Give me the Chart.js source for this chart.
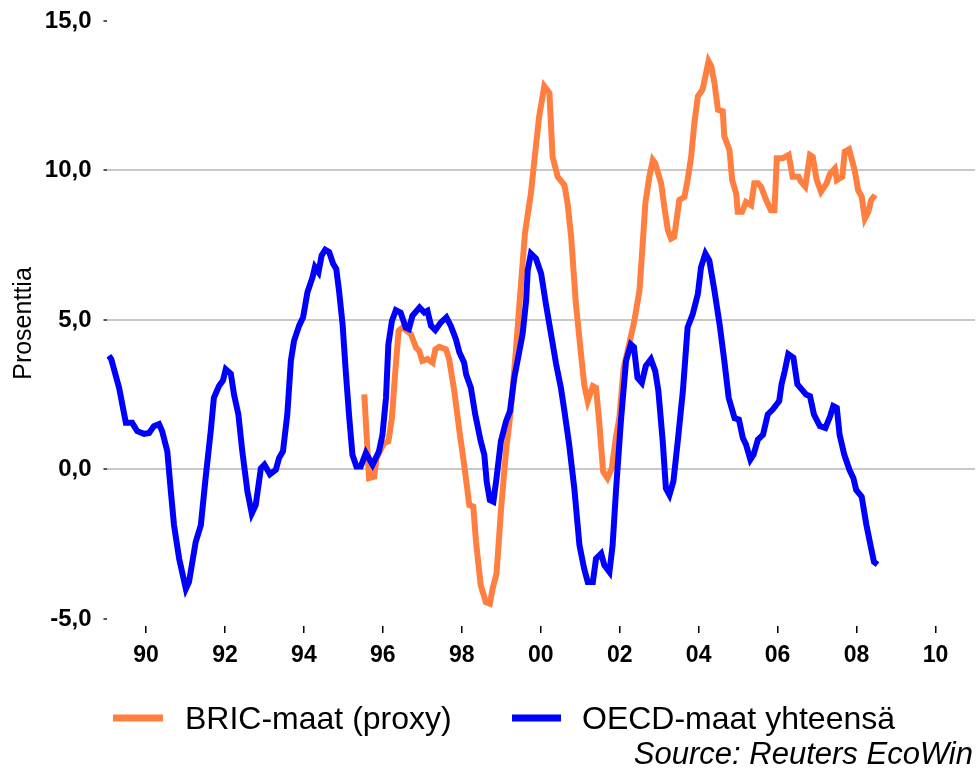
<!DOCTYPE html>
<html>
<head>
<meta charset="utf-8">
<script src="https://cdn.jsdelivr.net/npm/chart.js@4/dist/chart.umd.min.js"></script>
<style>
  html, body { margin: 0; padding: 0; background: #fff; }
  #wrap { width: 976px; height: 769px; }
</style>
</head>
<body>
<div id="wrap"><canvas id="chart" width="976" height="769"></canvas></div>
<script>
// BRIC-maat (proxy)
const bricYears = [
    1995.53, 1995.65, 1995.78, 1995.84, 1996.03, 1996.14, 1996.23, 1996.31, 1996.40, 1996.50,
    1996.71, 1996.84, 1996.92, 1997.00, 1997.13, 1997.26, 1997.33, 1997.43, 1997.60, 1997.68,
    1997.81, 1997.94, 1998.06, 1998.19, 1998.29, 1998.36, 1998.48, 1998.61, 1998.71, 1998.78,
    1998.88, 1998.99, 1999.12, 1999.24, 1999.37, 1999.50, 1999.60, 1999.75, 1999.84, 1999.96,
    2000.09, 2000.22, 2000.30, 2000.43, 2000.60, 2000.68, 2000.77, 2000.89, 2001.02, 2001.10,
    2001.19, 2001.32, 2001.40, 2001.48, 2001.58, 2001.69, 2001.80, 2001.90, 2001.99, 2002.10,
    2002.24, 2002.37, 2002.50, 2002.58, 2002.65, 2002.75, 2002.84, 2002.90, 2003.05, 2003.13,
    2003.22, 2003.30, 2003.38, 2003.51, 2003.64, 2003.72, 2003.81, 2003.89, 2003.98, 2004.10,
    2004.17, 2004.25, 2004.32, 2004.40, 2004.49, 2004.61, 2004.65, 2004.78, 2004.85, 2004.95,
    2004.99, 2005.10, 2005.20, 2005.33, 2005.41, 2005.50, 2005.58, 2005.71, 2005.83, 2005.92,
    2005.98, 2006.13, 2006.28, 2006.38, 2006.53, 2006.59, 2006.70, 2006.82, 2006.89, 2006.99,
    2007.10, 2007.24, 2007.33, 2007.45, 2007.50, 2007.64, 2007.70, 2007.81, 2007.95, 2008.04,
    2008.13, 2008.21, 2008.30, 2008.37, 2008.47
];
const bricValues = [
    2.51, -0.29, -0.24, 0.38, 0.88, 0.94, 1.72, 3.18, 4.64, 4.75,
    4.53, 4.08, 3.97, 3.63, 3.69, 3.57, 4.02, 4.10, 4.02, 3.69,
    2.62, 1.28, 0.16, -1.19, -1.24, -2.42, -3.88, -4.44, -4.49, -3.99,
    -3.48, -1.41, 0.61, 1.95, 3.97, 6.21, 7.90, 9.23, 10.35, 11.81,
    12.82, 12.59, 10.46, 9.79, 9.51, 8.90, 7.78, 5.54, 3.86, 2.85,
    2.29, 2.79, 2.73, 1.61, -0.07, -0.29, 0.04, 1.05, 1.72, 3.40,
    4.19, 4.97, 5.98, 7.50, 8.90, 9.79, 10.35, 10.24, 9.57, 8.78,
    8.00, 7.72, 7.78, 9.01, 9.12, 9.68, 10.46, 11.58, 12.48, 12.71,
    13.15, 13.66, 13.49, 12.93, 12.03, 11.98, 11.14, 10.69, 9.68, 9.23,
    8.62, 8.62, 8.95, 8.84, 9.57, 9.57, 9.46, 9.01, 8.67, 8.67,
    10.41, 10.41, 10.52, 9.79, 9.79, 9.63, 9.46, 10.52, 10.46, 9.68,
    9.29, 9.57, 9.90, 10.07, 9.68, 9.79, 10.63, 10.71, 10.02, 9.34,
    9.12, 8.39, 8.62, 9.01, 9.18
];

// OECD-maat yhteensä
const oecdYears = [
    1989.06, 1989.12, 1989.32, 1989.49, 1989.65, 1989.78, 1989.95, 1990.08, 1990.20, 1990.33,
    1990.41, 1990.54, 1990.63, 1990.71, 1990.84, 1991.01, 1991.09, 1991.26, 1991.39, 1991.51,
    1991.64, 1991.72, 1991.85, 1991.95, 1992.02, 1992.15, 1992.23, 1992.34, 1992.44, 1992.57,
    1992.68, 1992.78, 1992.91, 1993.00, 1993.14, 1993.29, 1993.37, 1993.47, 1993.58, 1993.67,
    1993.75, 1993.88, 1993.98, 1994.09, 1994.22, 1994.28, 1994.37, 1994.45, 1994.54, 1994.64,
    1994.74, 1994.82, 1994.89, 1994.98, 1995.06, 1995.15, 1995.23, 1995.33, 1995.44, 1995.57,
    1995.74, 1995.90, 1995.99, 1996.08, 1996.14, 1996.23, 1996.33, 1996.45, 1996.58, 1996.66,
    1996.75, 1996.93, 1997.05, 1997.13, 1997.22, 1997.33, 1997.47, 1997.61, 1997.72, 1997.85,
    1997.94, 1998.06, 1998.11, 1998.23, 1998.34, 1998.48, 1998.57, 1998.63, 1998.71, 1998.80,
    1998.88, 1998.99, 1999.12, 1999.22, 1999.33, 1999.46, 1999.54, 1999.63, 1999.67, 1999.75,
    1999.88, 2000.01, 2000.13, 2000.26, 2000.39, 2000.51, 2000.60, 2000.72, 2000.85, 2000.98,
    2001.10, 2001.19, 2001.32, 2001.40, 2001.53, 2001.61, 2001.74, 2001.82, 2001.91, 2002.03,
    2002.16, 2002.28, 2002.36, 2002.45, 2002.56, 2002.66, 2002.79, 2002.90, 2002.98, 2003.09,
    2003.17, 2003.26, 2003.36, 2003.47, 2003.60, 2003.72, 2003.85, 2003.98, 2004.06, 2004.17,
    2004.27, 2004.40, 2004.53, 2004.65, 2004.76, 2004.91, 2005.02, 2005.12, 2005.20, 2005.31,
    2005.39, 2005.50, 2005.63, 2005.75, 2005.88, 2006.04, 2006.10, 2006.18, 2006.27, 2006.40,
    2006.50, 2006.61, 2006.72, 2006.82, 2006.92, 2007.07, 2007.21, 2007.33, 2007.41, 2007.50,
    2007.57, 2007.69, 2007.82, 2007.92, 2007.99, 2008.13, 2008.25, 2008.37, 2008.44, 2008.53
];
const oecdValues = [
    3.80, 3.69, 2.73, 1.56, 1.56, 1.28, 1.19, 1.22, 1.45, 1.52,
    1.28, 0.61, -0.74, -1.86, -2.98, -3.99, -3.76, -2.42, -1.86, -0.29,
    1.28, 2.40, 2.79, 2.98, 3.35, 3.20, 2.51, 1.84, 0.61, -0.74,
    -1.47, -1.19, 0.04, 0.16, -0.16, -0.01, 0.38, 0.61, 1.84, 3.63,
    4.30, 4.81, 5.09, 5.93, 6.43, 6.77, 6.60, 7.16, 7.35, 7.27,
    6.88, 6.71, 5.98, 4.86, 3.29, 1.72, 0.49, 0.10, 0.10, 0.55,
    0.16, 0.60, 1.16, 2.40, 4.19, 4.97, 5.33, 5.25, 4.75, 4.70,
    5.14, 5.42, 5.25, 5.31, 4.81, 4.66, 4.92, 5.09, 4.81, 4.36,
    3.91, 3.57, 3.18, 2.73, 1.84, 0.94, 0.49, -0.40, -1.02, -1.08,
    -0.29, 0.94, 1.61, 1.95, 3.07, 3.97, 4.53, 5.65, 6.66, 7.22,
    7.05, 6.55, 5.54, 4.53, 3.52, 2.73, 1.95, 0.83, -0.63, -2.53,
    -3.32, -3.76, -3.76, -2.98, -2.81, -3.20, -3.43, -2.53, -0.63, 1.61,
    3.63, 4.19, 4.10, 3.07, 2.90, 3.46, 3.69, 3.29, 2.62, 0.94,
    -0.63, -0.85, -0.40, 0.94, 2.62, 4.75, 5.20, 5.87, 6.77, 7.22,
    6.99, 5.98, 4.86, 3.63, 2.40, 1.72, 1.67, 1.05, 0.83, 0.33,
    0.49, 1.00, 1.16, 1.84, 2.01, 2.29, 2.85, 3.29, 3.86, 3.74,
    2.85, 2.68, 2.51, 2.45, 1.84, 1.45, 1.39, 1.78, 2.12, 2.06,
    1.16, 0.49, -0.01, -0.29, -0.68, -0.91, -1.86, -2.64, -3.09, -3.18
];

const seriesLabels = ['BRIC-maat (proxy)', 'OECD-maat yhteensä'];
const xTickYears = [1990, 1992, 1994, 1996, 1998, 2000, 2002, 2004, 2006, 2008, 2010];
const xTickLabels = ['90', '92', '94', '96', '98', '00', '02', '04', '06', '08', '10'];
const yTickValues = [-5, 0, 5, 10, 15];
const yTickLabels = ['-5,0', '0,0', '5,0', '10,0', '15,0'];
const yAxisTitle = 'Prosenttia';
const sourceText = 'Source: Reuters EcoWin';

const FONT = "'Liberation Sans', Arial, sans-serif";
const ORANGE = '#ff7f40';
const BLUE = '#0000ff';

function toPoints(xs, ys) {
    return xs.map((x, i) => ({ x: x, y: ys[i] }));
}

// legend + source line drawn under the axis, like the original
const bottomLegend = {
    id: 'bottomLegend',
    afterDraw(chart) {
        const ctx = chart.ctx;
        const items = [
            { lineFrom: 113, lineTo: 163, textX: 185 },
            { lineFrom: 512, lineTo: 561, textX: 582 }
        ];
        ctx.save();
        items.forEach((item, i) => {
            const ds = chart.data.datasets[i];
            ctx.strokeStyle = ds.borderColor;
            ctx.lineWidth = 7;
            ctx.beginPath();
            ctx.moveTo(item.lineFrom, 718);
            ctx.lineTo(item.lineTo, 718);
            ctx.stroke();
            ctx.fillStyle = '#000';
            ctx.font = '32px ' + FONT;
            ctx.textBaseline = 'alphabetic';
            ctx.textAlign = 'left';
            ctx.fillText(ds.label, item.textX, 729);
        });
        ctx.font = 'italic 31px ' + FONT;
        ctx.textAlign = 'right';
        ctx.fillText(sourceText, 973, 764);
        ctx.restore();
    }
};

new Chart(document.getElementById('chart'), {
    type: 'line',
    data: {
        datasets: [
            {
                label: seriesLabels[0],
                data: toPoints(bricYears, bricValues),
                borderColor: ORANGE,
                borderWidth: 6,
                pointRadius: 0,
                tension: 0,
                order: 2
            },
            {
                label: seriesLabels[1],
                data: toPoints(oecdYears, oecdValues),
                borderColor: BLUE,
                borderWidth: 6,
                pointRadius: 0,
                tension: 0,
                order: 1
            }
        ]
    },
    options: {
        responsive: false,
        animation: false,
        layout: { padding: { top: 21, right: 1, bottom: 0, left: 0 } },
        plugins: {
            legend: { display: false },
            tooltip: { enabled: false }
        },
        scales: {
            x: {
                type: 'linear',
                min: 1989,
                max: 2011,
                border: { display: false },
                grid: {
                    drawOnChartArea: false,
                    color: '#000',
                    tickLength: 7,
                    lineWidth: 1.5
                },
                afterBuildTicks(scale) {
                    scale.ticks = xTickYears.map(v => ({ value: v }));
                },
                afterFit(scale) {
                    scale.height = 143;
                    scale.paddingLeft = 0;
                    scale.paddingRight = 0;
                },
                ticks: {
                    autoSkip: false,
                    maxRotation: 0,
                    padding: 9,
                    color: '#000',
                    font: { family: FONT, size: 23, weight: 'bold' },
                    callback: function(value) {
                        const i = xTickYears.indexOf(value);
                        return i >= 0 ? xTickLabels[i] : '';
                    }
                }
            },
            y: {
                min: -5.235,
                max: 15,
                border: { display: false },
                grid: {
                    color: ctx => (ctx.tick && [0, 5, 10].includes(ctx.tick.value)) ? '#c8c8c8' : 'rgba(0,0,0,0)',
                    lineWidth: 2,
                    tickColor: '#555',
                    tickLength: 3
                },
                afterBuildTicks(scale) {
                    scale.ticks = yTickValues.map(v => ({ value: v }));
                },
                afterFit(scale) {
                    scale.width = 106.5;
                    scale.paddingTop = 0;
                    scale.paddingBottom = 0;
                },
                title: {
                    display: true,
                    text: yAxisTitle,
                    color: '#000',
                    font: { family: FONT, size: 25 },
                    padding: { top: 9, bottom: 0 }
                },
                ticks: {
                    padding: 12,
                    color: '#000',
                    font: { family: FONT, size: 24, weight: 'bold' },
                    callback: function(value) {
                        const i = yTickValues.indexOf(value);
                        return i >= 0 ? yTickLabels[i] : '';
                    }
                }
            }
        }
    },
    plugins: [bottomLegend]
});
</script>
</body>
</html>
